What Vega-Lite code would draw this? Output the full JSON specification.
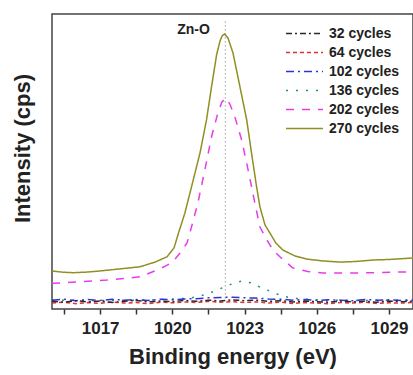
{
  "$schema": "https://vega.github.io/schema/vega-lite/v6.json",
  "width": 361,
  "height": 295,
  "autosize": {"type": "none"},
  "padding": {"left": 52, "top": 14, "right": 0, "bottom": 66},
  "config": {
    "view": {"stroke": "#444", "strokeWidth": 1.5},
    "font": "Liberation Sans",
    "legend": {
      "orient": "none",
      "legendX": 233,
      "legendY": 10,
      "symbolType": "stroke",
      "symbolSize": 1369,
      "clipHeight": 19,
      "rowPadding": 0,
      "padding": 0,
      "labelFont": "Liberation Sans",
      "labelFontSize": 14,
      "labelFontWeight": "bold",
      "labelColor": "#222",
      "labelOffset": 5
    }
  },
  "datasets": {
    "spectra": [
      {"series": "270 cycles", "energy": 1015.0, "intensity": 12.9},
      {"series": "270 cycles", "energy": 1015.42, "intensity": 12.5},
      {"series": "270 cycles", "energy": 1015.87, "intensity": 12.3},
      {"series": "270 cycles", "energy": 1016.41, "intensity": 12.5},
      {"series": "270 cycles", "energy": 1017.0, "intensity": 12.9},
      {"series": "270 cycles", "energy": 1017.82, "intensity": 13.6},
      {"series": "270 cycles", "energy": 1018.65, "intensity": 14.3},
      {"series": "270 cycles", "energy": 1019.28, "intensity": 15.9},
      {"series": "270 cycles", "energy": 1019.78, "intensity": 17.7},
      {"series": "270 cycles", "energy": 1020.07, "intensity": 20.7},
      {"series": "270 cycles", "energy": 1020.27, "intensity": 26.1},
      {"series": "270 cycles", "energy": 1020.52, "intensity": 32.5},
      {"series": "270 cycles", "energy": 1020.8, "intensity": 41.5},
      {"series": "270 cycles", "energy": 1021.15, "intensity": 52.9},
      {"series": "270 cycles", "energy": 1021.42, "intensity": 64.1},
      {"series": "270 cycles", "energy": 1021.63, "intensity": 75.4},
      {"series": "270 cycles", "energy": 1021.84, "intensity": 86.2},
      {"series": "270 cycles", "energy": 1021.98, "intensity": 90.8},
      {"series": "270 cycles", "energy": 1022.08, "intensity": 92.7},
      {"series": "270 cycles", "energy": 1022.17, "intensity": 93.2},
      {"series": "270 cycles", "energy": 1022.31, "intensity": 91.9},
      {"series": "270 cycles", "energy": 1022.52, "intensity": 86.8},
      {"series": "270 cycles", "energy": 1022.81, "intensity": 75.3},
      {"series": "270 cycles", "energy": 1023.09, "intensity": 64.1},
      {"series": "270 cycles", "energy": 1023.29, "intensity": 52.9},
      {"series": "270 cycles", "energy": 1023.5, "intensity": 41.5},
      {"series": "270 cycles", "energy": 1023.64, "intensity": 34.6},
      {"series": "270 cycles", "energy": 1023.85, "intensity": 28.5},
      {"series": "270 cycles", "energy": 1024.05, "intensity": 25.8},
      {"series": "270 cycles", "energy": 1024.3, "intensity": 22.4},
      {"series": "270 cycles", "energy": 1024.59, "intensity": 20.0},
      {"series": "270 cycles", "energy": 1025.09, "intensity": 18.0},
      {"series": "270 cycles", "energy": 1025.59, "intensity": 16.9},
      {"series": "270 cycles", "energy": 1026.25, "intensity": 16.3},
      {"series": "270 cycles", "energy": 1026.96, "intensity": 15.9},
      {"series": "270 cycles", "energy": 1027.62, "intensity": 16.1},
      {"series": "270 cycles", "energy": 1028.33, "intensity": 16.6},
      {"series": "270 cycles", "energy": 1029.04, "intensity": 16.8},
      {"series": "270 cycles", "energy": 1030.0, "intensity": 17.3},

      {"series": "202 cycles", "energy": 1015.0, "intensity": 8.7},
      {"series": "202 cycles", "energy": 1016.16, "intensity": 9.2},
      {"series": "202 cycles", "energy": 1017.28, "intensity": 9.8},
      {"series": "202 cycles", "energy": 1018.65, "intensity": 10.9},
      {"series": "202 cycles", "energy": 1019.36, "intensity": 13.2},
      {"series": "202 cycles", "energy": 1019.73, "intensity": 14.6},
      {"series": "202 cycles", "energy": 1020.02, "intensity": 16.0},
      {"series": "202 cycles", "energy": 1020.32, "intensity": 19.0},
      {"series": "202 cycles", "energy": 1020.61, "intensity": 22.4},
      {"series": "202 cycles", "energy": 1020.73, "intensity": 25.8},
      {"series": "202 cycles", "energy": 1021.06, "intensity": 35.9},
      {"series": "202 cycles", "energy": 1021.35, "intensity": 47.1},
      {"series": "202 cycles", "energy": 1021.63, "intensity": 58.4},
      {"series": "202 cycles", "energy": 1021.89, "intensity": 66.4},
      {"series": "202 cycles", "energy": 1022.06, "intensity": 70.2},
      {"series": "202 cycles", "energy": 1022.23, "intensity": 71.5},
      {"series": "202 cycles", "energy": 1022.39, "intensity": 69.5},
      {"series": "202 cycles", "energy": 1022.6, "intensity": 65.1},
      {"series": "202 cycles", "energy": 1022.88, "intensity": 57.3},
      {"series": "202 cycles", "energy": 1023.15, "intensity": 47.1},
      {"series": "202 cycles", "energy": 1023.43, "intensity": 35.9},
      {"series": "202 cycles", "energy": 1023.64, "intensity": 27.8},
      {"series": "202 cycles", "energy": 1023.93, "intensity": 23.4},
      {"series": "202 cycles", "energy": 1024.18, "intensity": 20.0},
      {"series": "202 cycles", "energy": 1024.47, "intensity": 17.7},
      {"series": "202 cycles", "energy": 1025.01, "intensity": 13.9},
      {"series": "202 cycles", "energy": 1025.63, "intensity": 12.7},
      {"series": "202 cycles", "energy": 1026.25, "intensity": 12.2},
      {"series": "202 cycles", "energy": 1027.29, "intensity": 12.2},
      {"series": "202 cycles", "energy": 1028.33, "intensity": 12.3},
      {"series": "202 cycles", "energy": 1029.16, "intensity": 12.5},
      {"series": "202 cycles", "energy": 1030.0, "intensity": 12.6},

      {"series": "136 cycles", "energy": 1015.0, "intensity": 3.0},
      {"series": "136 cycles", "energy": 1017.0, "intensity": 2.9},
      {"series": "136 cycles", "energy": 1019.07, "intensity": 3.0},
      {"series": "136 cycles", "energy": 1020.73, "intensity": 3.7},
      {"series": "136 cycles", "energy": 1021.15, "intensity": 4.4},
      {"series": "136 cycles", "energy": 1021.56, "intensity": 5.4},
      {"series": "136 cycles", "energy": 1022.06, "intensity": 7.1},
      {"series": "136 cycles", "energy": 1022.48, "intensity": 8.5},
      {"series": "136 cycles", "energy": 1022.89, "intensity": 9.5},
      {"series": "136 cycles", "energy": 1023.31, "intensity": 8.8},
      {"series": "136 cycles", "energy": 1023.72, "intensity": 7.1},
      {"series": "136 cycles", "energy": 1024.14, "intensity": 5.8},
      {"series": "136 cycles", "energy": 1024.55, "intensity": 4.4},
      {"series": "136 cycles", "energy": 1025.09, "intensity": 3.6},
      {"series": "136 cycles", "energy": 1026.13, "intensity": 3.0},
      {"series": "136 cycles", "energy": 1027.79, "intensity": 2.9},
      {"series": "136 cycles", "energy": 1030.0, "intensity": 3.0},

      {"series": "102 cycles", "energy": 1015.0, "intensity": 3.0},
      {"series": "102 cycles", "energy": 1015.5, "intensity": 3.3},
      {"series": "102 cycles", "energy": 1016.0, "intensity": 2.8},
      {"series": "102 cycles", "energy": 1016.5, "intensity": 3.2},
      {"series": "102 cycles", "energy": 1017.0, "intensity": 2.9},
      {"series": "102 cycles", "energy": 1017.5, "intensity": 3.3},
      {"series": "102 cycles", "energy": 1018.0, "intensity": 3.0},
      {"series": "102 cycles", "energy": 1018.5, "intensity": 3.2},
      {"series": "102 cycles", "energy": 1019.0, "intensity": 2.9},
      {"series": "102 cycles", "energy": 1019.5, "intensity": 3.3},
      {"series": "102 cycles", "energy": 1020.0, "intensity": 3.1},
      {"series": "102 cycles", "energy": 1020.5, "intensity": 3.4},
      {"series": "102 cycles", "energy": 1021.0, "intensity": 3.5},
      {"series": "102 cycles", "energy": 1021.5, "intensity": 3.8},
      {"series": "102 cycles", "energy": 1022.0, "intensity": 3.9},
      {"series": "102 cycles", "energy": 1022.5, "intensity": 4.0},
      {"series": "102 cycles", "energy": 1023.0, "intensity": 3.8},
      {"series": "102 cycles", "energy": 1023.5, "intensity": 3.7},
      {"series": "102 cycles", "energy": 1024.0, "intensity": 3.4},
      {"series": "102 cycles", "energy": 1024.5, "intensity": 3.3},
      {"series": "102 cycles", "energy": 1025.0, "intensity": 3.0},
      {"series": "102 cycles", "energy": 1025.5, "intensity": 3.2},
      {"series": "102 cycles", "energy": 1026.0, "intensity": 2.9},
      {"series": "102 cycles", "energy": 1026.5, "intensity": 3.1},
      {"series": "102 cycles", "energy": 1027.0, "intensity": 3.0},
      {"series": "102 cycles", "energy": 1027.5, "intensity": 2.8},
      {"series": "102 cycles", "energy": 1028.0, "intensity": 3.2},
      {"series": "102 cycles", "energy": 1028.5, "intensity": 3.0},
      {"series": "102 cycles", "energy": 1029.0, "intensity": 3.1},
      {"series": "102 cycles", "energy": 1029.5, "intensity": 2.9},
      {"series": "102 cycles", "energy": 1030.0, "intensity": 3.0},

      {"series": "64 cycles", "energy": 1015.0, "intensity": 2.0},
      {"series": "64 cycles", "energy": 1015.5, "intensity": 2.3},
      {"series": "64 cycles", "energy": 1016.0, "intensity": 1.8},
      {"series": "64 cycles", "energy": 1016.5, "intensity": 2.2},
      {"series": "64 cycles", "energy": 1017.0, "intensity": 1.9},
      {"series": "64 cycles", "energy": 1017.5, "intensity": 2.4},
      {"series": "64 cycles", "energy": 1018.0, "intensity": 2.0},
      {"series": "64 cycles", "energy": 1018.5, "intensity": 2.2},
      {"series": "64 cycles", "energy": 1019.0, "intensity": 1.8},
      {"series": "64 cycles", "energy": 1019.5, "intensity": 2.3},
      {"series": "64 cycles", "energy": 1020.0, "intensity": 2.1},
      {"series": "64 cycles", "energy": 1020.5, "intensity": 2.4},
      {"series": "64 cycles", "energy": 1021.0, "intensity": 2.2},
      {"series": "64 cycles", "energy": 1021.5, "intensity": 2.6},
      {"series": "64 cycles", "energy": 1022.0, "intensity": 2.3},
      {"series": "64 cycles", "energy": 1022.5, "intensity": 2.5},
      {"series": "64 cycles", "energy": 1023.0, "intensity": 2.2},
      {"series": "64 cycles", "energy": 1023.5, "intensity": 2.4},
      {"series": "64 cycles", "energy": 1024.0, "intensity": 2.0},
      {"series": "64 cycles", "energy": 1024.5, "intensity": 2.3},
      {"series": "64 cycles", "energy": 1025.0, "intensity": 1.9},
      {"series": "64 cycles", "energy": 1025.5, "intensity": 2.2},
      {"series": "64 cycles", "energy": 1026.0, "intensity": 2.0},
      {"series": "64 cycles", "energy": 1026.5, "intensity": 1.8},
      {"series": "64 cycles", "energy": 1027.0, "intensity": 2.2},
      {"series": "64 cycles", "energy": 1027.5, "intensity": 2.0},
      {"series": "64 cycles", "energy": 1028.0, "intensity": 2.3},
      {"series": "64 cycles", "energy": 1028.5, "intensity": 1.9},
      {"series": "64 cycles", "energy": 1029.0, "intensity": 2.1},
      {"series": "64 cycles", "energy": 1029.5, "intensity": 2.0},
      {"series": "64 cycles", "energy": 1030.0, "intensity": 2.2},

      {"series": "32 cycles", "energy": 1015.0, "intensity": 2.6},
      {"series": "32 cycles", "energy": 1015.5, "intensity": 2.3},
      {"series": "32 cycles", "energy": 1016.0, "intensity": 2.8},
      {"series": "32 cycles", "energy": 1016.5, "intensity": 2.4},
      {"series": "32 cycles", "energy": 1017.0, "intensity": 2.7},
      {"series": "32 cycles", "energy": 1017.5, "intensity": 2.2},
      {"series": "32 cycles", "energy": 1018.0, "intensity": 2.6},
      {"series": "32 cycles", "energy": 1018.5, "intensity": 2.9},
      {"series": "32 cycles", "energy": 1019.0, "intensity": 2.4},
      {"series": "32 cycles", "energy": 1019.5, "intensity": 2.7},
      {"series": "32 cycles", "energy": 1020.0, "intensity": 2.5},
      {"series": "32 cycles", "energy": 1020.5, "intensity": 2.9},
      {"series": "32 cycles", "energy": 1021.0, "intensity": 2.6},
      {"series": "32 cycles", "energy": 1021.5, "intensity": 3.0},
      {"series": "32 cycles", "energy": 1022.0, "intensity": 2.7},
      {"series": "32 cycles", "energy": 1022.5, "intensity": 3.1},
      {"series": "32 cycles", "energy": 1023.0, "intensity": 2.8},
      {"series": "32 cycles", "energy": 1023.5, "intensity": 3.0},
      {"series": "32 cycles", "energy": 1024.0, "intensity": 2.6},
      {"series": "32 cycles", "energy": 1024.5, "intensity": 2.8},
      {"series": "32 cycles", "energy": 1025.0, "intensity": 2.4},
      {"series": "32 cycles", "energy": 1025.5, "intensity": 2.7},
      {"series": "32 cycles", "energy": 1026.0, "intensity": 2.5},
      {"series": "32 cycles", "energy": 1026.5, "intensity": 2.3},
      {"series": "32 cycles", "energy": 1027.0, "intensity": 2.7},
      {"series": "32 cycles", "energy": 1027.5, "intensity": 2.4},
      {"series": "32 cycles", "energy": 1028.0, "intensity": 2.6},
      {"series": "32 cycles", "energy": 1028.5, "intensity": 2.3},
      {"series": "32 cycles", "energy": 1029.0, "intensity": 2.7},
      {"series": "32 cycles", "energy": 1029.5, "intensity": 2.5},
      {"series": "32 cycles", "energy": 1030.0, "intensity": 2.6}
    ],
    "marker": [
      {"energy": 1022.2, "top": 97.6, "bottom": 3.0, "label": "Zn-O", "labelEnergy": 1020.88, "labelIntensity": 94.6}
    ]
  },
  "layer": [
    {
      "data": {"name": "marker"},
      "mark": {"type": "rule", "color": "#a0a0a0", "strokeWidth": 1, "strokeDash": [1.5, 2.5]},
      "encoding": {
        "x": {"field": "energy", "type": "quantitative"},
        "y": {"field": "top", "type": "quantitative"},
        "y2": {"field": "bottom"}
      }
    },
    {
      "data": {"name": "spectra"},
      "mark": {"type": "line", "strokeCap": "butt", "clip": true},
      "encoding": {
        "x": {
          "field": "energy",
          "type": "quantitative",
          "scale": {"domain": [1015, 1030], "nice": false, "zero": false},
          "axis": {
            "values": [1015.5, 1017, 1018.5, 1020, 1021.5, 1023, 1024.5, 1026, 1027.5, 1029],
            "format": "d",
            "labelExpr": "datum.value % 3 == 0 ? datum.label : ''",
            "labelFont": "Liberation Sans",
            "labelFontSize": 17,
            "labelFontWeight": "bold",
            "labelColor": "#222",
            "labelPadding": 6,
            "labelFlush": false,
            "tickSize": 5,
            "tickColor": "#333",
            "tickWidth": 1.5,
            "domain": false,
            "grid": false,
            "title": "Binding energy (eV)",
            "titleFont": "Liberation Sans",
            "titleFontSize": 22,
            "titleFontWeight": "bold",
            "titleColor": "#222",
            "titlePadding": 10
          }
        },
        "y": {
          "field": "intensity",
          "type": "quantitative",
          "scale": {"domain": [0, 100], "nice": false},
          "axis": {
            "labels": false,
            "ticks": false,
            "grid": false,
            "domain": false,
            "title": "Intensity (cps)",
            "titleFont": "Liberation Sans",
            "titleFontSize": 22,
            "titleFontWeight": "bold",
            "titleColor": "#222",
            "titleX": -18,
            "titleY": 134,
            "titleAngle": 270,
            "titleAlign": "center",
            "titleBaseline": "bottom"
          }
        },
        "color": {
          "field": "series",
          "type": "nominal",
          "scale": {
            "domain": ["32 cycles", "64 cycles", "102 cycles", "136 cycles", "202 cycles", "270 cycles"],
            "range": ["#2a2a2a", "#e03030", "#3030d8", "#2a8a8a", "#e83ce8", "#8f8f22"]
          },
          "legend": {"title": null}
        },
        "strokeDash": {
          "field": "series",
          "type": "nominal",
          "scale": {
            "domain": ["32 cycles", "64 cycles", "102 cycles", "136 cycles", "202 cycles", "270 cycles"],
            "range": [[6, 3, 2, 3], [4, 3], [8, 4, 2, 4], [2, 8], [8, 8], [1, 0]]
          },
          "legend": {"title": null}
        },
        "strokeWidth": {
          "field": "series",
          "type": "nominal",
          "scale": {
            "domain": ["32 cycles", "64 cycles", "102 cycles", "136 cycles", "202 cycles", "270 cycles"],
            "range": [1.5, 1.5, 2.5, 2, 2, 1.8]
          },
          "legend": {"title": null}
        }
      }
    },
    {
      "data": {"name": "marker"},
      "mark": {"type": "text", "font": "Liberation Sans", "fontSize": 14, "fontWeight": "bold", "color": "#222", "baseline": "middle", "align": "center"},
      "encoding": {
        "x": {"field": "labelEnergy", "type": "quantitative"},
        "y": {"field": "labelIntensity", "type": "quantitative"},
        "text": {"field": "label"}
      }
    }
  ]
}
